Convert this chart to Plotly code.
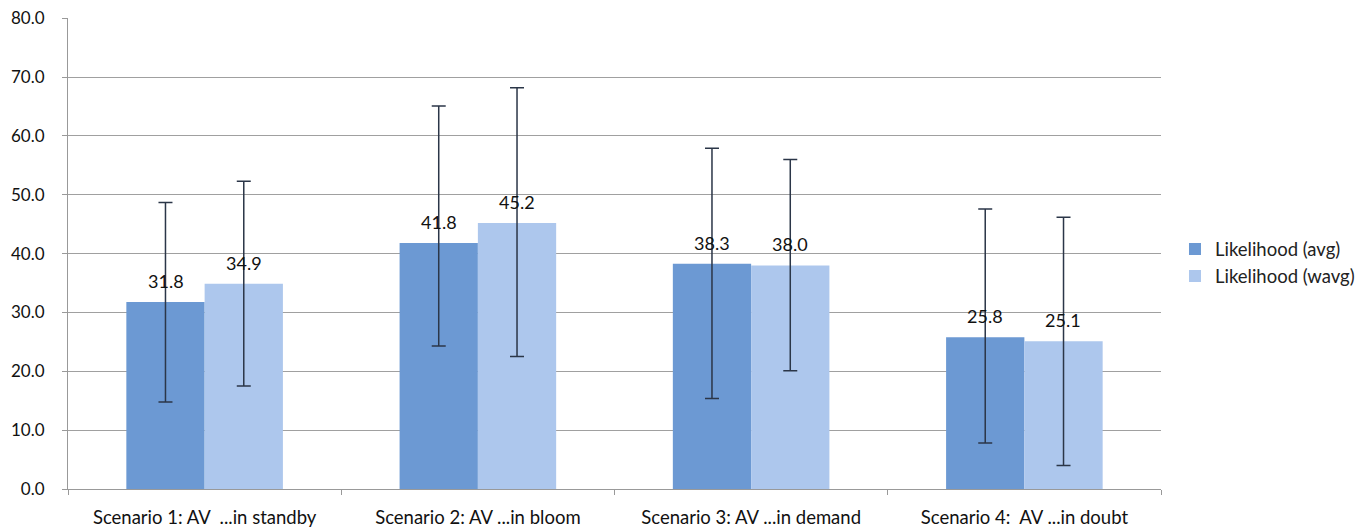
import plotly.graph_objects as go

categories = ["Scenario 1: AV \u00a0...in standby", "Scenario 2: AV ...in bloom",
              "Scenario 3: AV ...in demand", "Scenario 4: \u00a0AV ...in doubt"]
avg = [31.8, 41.8, 38.3, 25.8]
wavg = [34.9, 45.2, 38.0, 25.1]
avg_err_plus = [16.9, 23.3, 19.6, 21.8]
avg_err_minus = [17.0, 17.5, 22.9, 18.0]
wavg_err_plus = [17.4, 23.0, 18.0, 21.1]
wavg_err_minus = [17.4, 22.7, 17.9, 21.1]
y_ticks = [0, 10, 20, 30, 40, 50, 60, 70, 80]

font_family = "Lato, 'Liberation Sans', sans-serif"
err_style = dict(type="data", symmetric=False, color="#2b3648", thickness=1.5, width=7)

fig = go.Figure()
fig.add_trace(go.Bar(
    name="Likelihood (avg)", x=categories, y=avg,
    marker=dict(color="#6c99d3", line=dict(width=0)),
    error_y=dict(array=avg_err_plus, arrayminus=avg_err_minus, **err_style),
))
fig.add_trace(go.Bar(
    name="Likelihood (wavg)", x=categories, y=wavg,
    marker=dict(color="#adc7ed", line=dict(width=0)),
    error_y=dict(array=wavg_err_plus, arrayminus=wavg_err_minus, **err_style),
))

for series, shift in ((avg, -39), (wavg, 39)):
    for c, v in zip(categories, series):
        fig.add_annotation(x=c, y=v, text=f"{v:.1f}", showarrow=False,
                           xshift=shift, yshift=21,
                           font=dict(family=font_family, size=18, color="#111"))

fig.update_layout(
    width=1362, height=520,
    margin=dict(l=60, r=205, t=10, b=39),
    paper_bgcolor="white", plot_bgcolor="white",
    barmode="group", bargap=0.427, bargroupgap=0,
    font=dict(family=font_family, size=15, color="#111"),
    legend=dict(x=1.0128, y=0.48, xanchor="left", yanchor="middle",
                font=dict(size=18.5, color="#222")),
    xaxis=dict(showline=True, linecolor="#999", linewidth=1,
               ticks="outside", tickson="boundaries", ticklen=5, tickcolor="#999",
               tickfont=dict(size=18.5), ticklabelstandoff=12,
               showgrid=False, automargin=False),
    yaxis=dict(range=[0, 80.05], tickvals=y_ticks, tickformat=".1f",
               showline=True, linecolor="#999", linewidth=1,
               ticks="outside", ticklen=5, tickcolor="#999",
               showgrid=True, gridcolor="#a0a0a0", gridwidth=1,
               zeroline=False, tickfont=dict(size=17), ticklabelstandoff=14,
               ticklabeloverflow="allow", automargin=False),
)

fig.write_html("out.html")
